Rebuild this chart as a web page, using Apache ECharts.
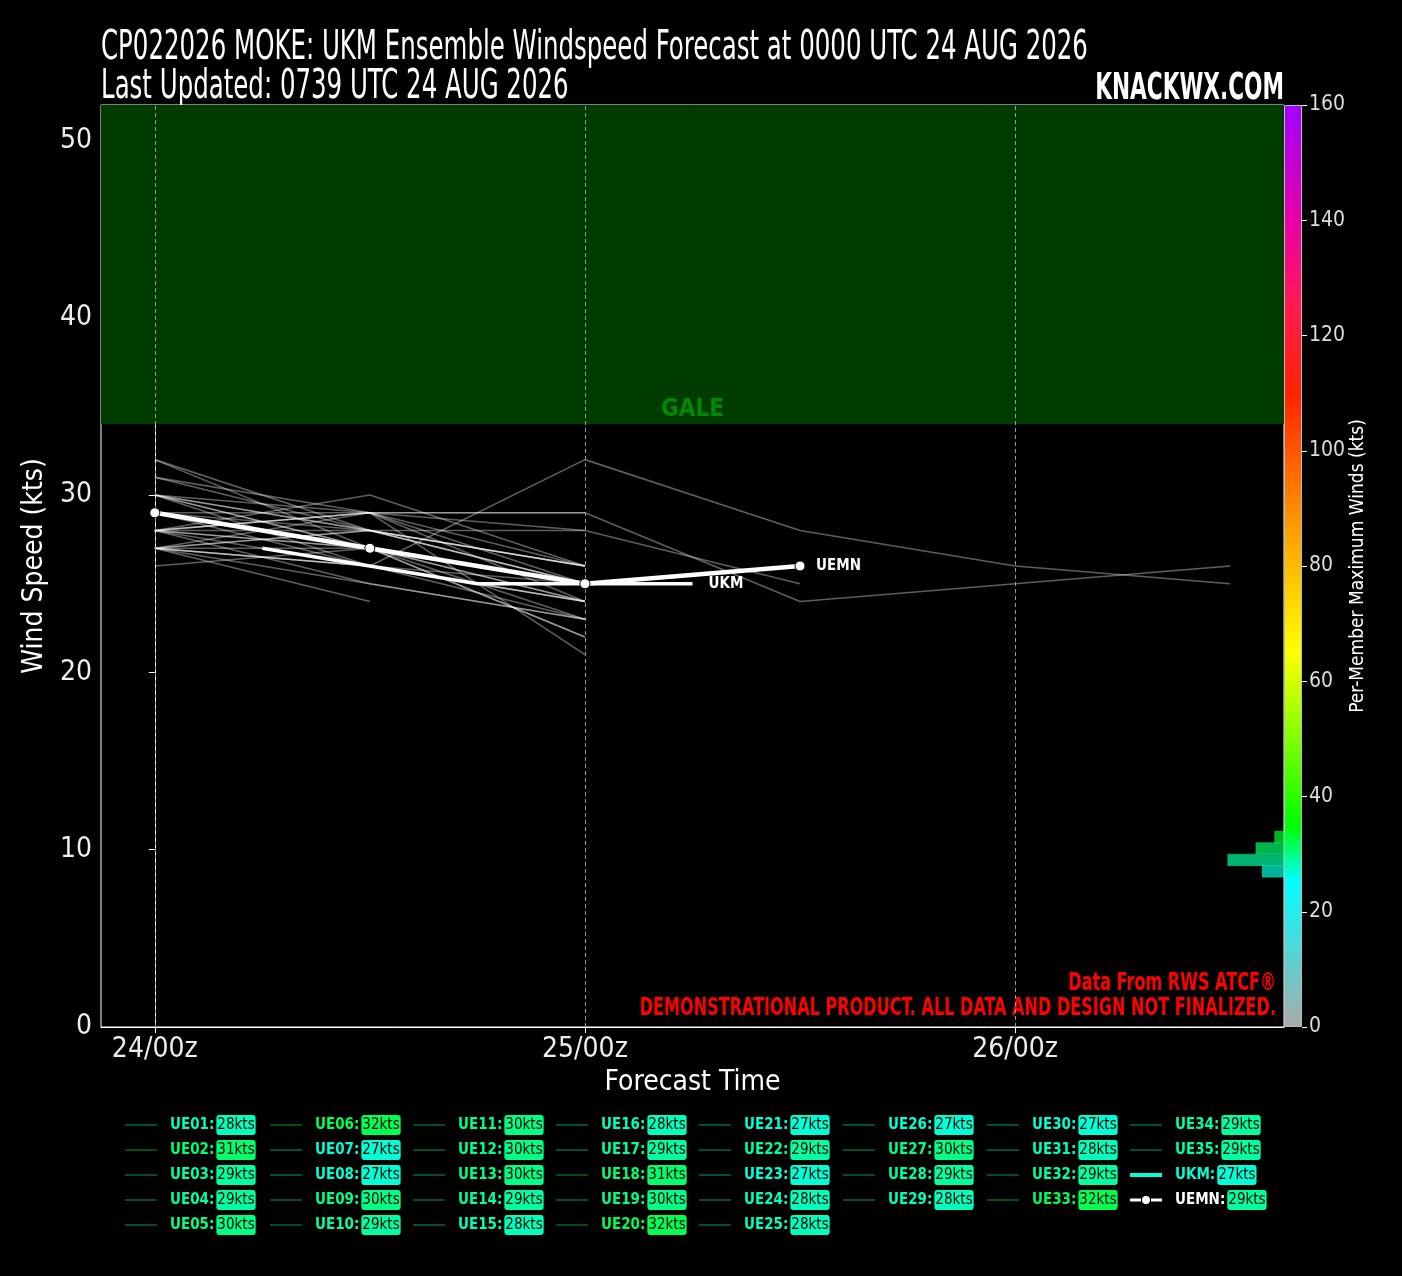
<!DOCTYPE html>
<html><head><meta charset="utf-8">
<script src="https://cdn.jsdelivr.net/npm/echarts@6/dist/echarts.min.js"></script>
<style>html,body{margin:0;padding:0;background:#000;}#c{width:1402px;height:1276px;}</style>
</head><body><div id="c"></div>
<script>
// ---------------- DATA ----------------
const memberHours = [0, 12, 24, 36, 48, 60];
const memberNames = ['UE01','UE02','UE03','UE04','UE05','UE06','UE07','UE08','UE09','UE10',
  'UE11','UE12','UE13','UE14','UE15','UE16','UE17','UE18','UE19','UE20',
  'UE21','UE22','UE23','UE24','UE25','UE26','UE27','UE28','UE29','UE30',
  'UE31','UE32','UE33','UE34','UE35'];
const memberWinds = [
  [28,27,25],[31,28,26],[29,27,25],[28,29,29,24,25,26],[30,28,26],
  [32,28,25],[27,26,24],[27,25,23],[30,27,25],[29,29,26],
  [28,30,26],[30,29,28],[30,26,24],[28,29,29],[28,26,24],
  [27,28,26],[29,28,25],[31,29,24],[30,28,25],[32,27,22],
  [27,27,25],[28,29,21],[26,27,25],[28,28,28,25],[28,25,23],
  [27,24],[30,27,23],[29,27,24],[27,28,26],[27,26,25],
  [28,27,24],[27,29,25],[27,26,32,28,26,25],[29,26,23],[29,27,22]
];
const ukmHours = [6, 12, 18, 24, 30];
const ukmWinds = [27, 26, 25, 25, 25];
const uemnHours = [0, 12, 24, 36];
const uemnWinds = [29, 27, 25, 26];
const tickHours = [0, 24, 48];
const tickLabels = ['24/00z', '25/00z', '26/00z'];
const yTicks = [0, 10, 20, 30, 40, 50];
const cbTicks = [0, 20, 40, 60, 80, 100, 120, 140, 160];
const galeThreshold = 34;
const titleLines = ['CP022026 MOKE: UKM Ensemble Windspeed Forecast at 0000 UTC 24 AUG 2026',
  'Last Updated: 0739 UTC 24 AUG 2026'];
const legendColumnSizes = [5, 5, 5, 5, 5, 4, 4, 4];

// ---------------- STYLE ----------------
const F = "'Liberation Sans Narrow','DejaVu Sans Condensed','Arial Narrow',sans-serif";
const xMin = -3, xMax = 63, yMax = 52, cbMax = 160, binW = 2;
const cmapStops = [[0,'#aaaaaa'],[25.5,'#00ffff'],[35,'#00ff00'],[65,'#ffff00'],[85,'#ffa500'],
  [110,'#ff2200'],[125,'#ff1a50'],[140,'#e800a8'],[160,'#a000ff']];
function hex2rgb(h){return [parseInt(h.substr(1,2),16),parseInt(h.substr(3,2),16),parseInt(h.substr(5,2),16)];}
function cmapRGB(v){
  if (v <= cmapStops[0][0]) return hex2rgb(cmapStops[0][1]);
  for (let i=1;i<cmapStops.length;i++){
    if (v <= cmapStops[i][0]){
      const a=cmapStops[i-1], b=cmapStops[i], t=(v-a[0])/(b[0]-a[0]);
      const ca=hex2rgb(a[1]), cb=hex2rgb(b[1]);
      return ca.map((c,k)=>Math.round(c+(cb[k]-c)*t));
    }
  }
  return hex2rgb(cmapStops[cmapStops.length-1][1]);
}
function cmap(v, a){const c=cmapRGB(v); return a==null?`rgb(${c[0]},${c[1]},${c[2]})`:`rgba(${c[0]},${c[1]},${c[2]},${a})`;}

const zip = (xs, ys) => ys.map((y,i)=>[xs[i], y]);
const memberMax = memberWinds.map(w => Math.max(...w));
const ukmMax = Math.max(...ukmWinds), uemnMax = Math.max(...uemnWinds);
const allMax = memberMax.concat([ukmMax, uemnMax]);

// histogram of per-member maxima
const binCounts = {};
allMax.forEach(v => { const b = Math.floor(v/binW)*binW; binCounts[b] = (binCounts[b]||0)+1; });
const histData = Object.keys(binCounts).map(b => [Number(b), Number(b)+binW, binCounts[b]]);

// legend items
const legendNames = memberNames.concat(['UKM','UEMN']);
const maxByName = {}; memberNames.forEach((n,i)=>maxByName[n]=memberMax[i]);
maxByName['UKM']=ukmMax; maxByName['UEMN']=uemnMax;
const rich = {};
Object.values(maxByName).forEach(k => {
  rich['n'+k] = {color: cmap(k), fontWeight:'bold', fontSize:15, fontFamily:F, padding:[0,2,0,8]};
  rich['b'+k] = {backgroundColor: cmap(k), color:'#000', fontSize:15, fontFamily:F, borderRadius:3, padding:[3,1,2,1]};
});
rich['w'] = {color:'#ffffff', fontWeight:'bold', fontSize:15, fontFamily:F, padding:[0,2,0,8]};
const colX = [125, 270, 413, 556, 699, 843, 987, 1130];
const ICON_LINE = 'path://M0,0H32V2H0Z';
const ICON_THICK = 'path://M0,0H32V4H0Z';
const ICON_MEAN = 'path://M0,3H11V6H0Z M21,3H32V6H21Z M16,0.5A4,4 0 1,1 15.99,0.5Z';
let start = 0;
const legends = colX.map((x, c) => {
  const names = legendNames.slice(start, start + legendColumnSizes[c]);
  start += legendColumnSizes[c];
  return {
    orient:'vertical', left:x, top:1115, padding:0, itemGap:5, itemWidth:32, itemHeight:14,
    selectedMode:false, symbolKeepAspect:true, textStyle:{rich:rich},
    formatter: name => {const k=maxByName[name]; const s = name==='UEMN'?'w':'n'+k; return `{${s}|${name}:}{b${k}|${k}kts}`;},
    data: names.map(n => {
      if (n==='UKM') return {name:n, icon:ICON_THICK, itemStyle:{color:cmap(ukmMax), borderWidth:0}};
      if (n==='UEMN') return {name:n, icon:ICON_MEAN, itemStyle:{color:'#fff', borderWidth:0}};
      return {name:n, icon:ICON_LINE, itemStyle:{color:cmap(maxByName[n],0.3), borderWidth:0}};
    })
  };
});

const series = [];
series.push({
  type:'line', data:[], silent:true, z:1, xAxisIndex:0, yAxisIndex:0,
  markArea:{silent:true, itemStyle:{color:'#003c00'},
    label:{show:true, position:'insideBottom', formatter:'GALE', color:'#008a00', fontSize:24, fontWeight:'bold', fontFamily:F, distance:2},
    data:[[{xAxis:xMin, yAxis:galeThreshold},{xAxis:xMax, yAxis:yMax}]]},
  markLine:{silent:true, symbol:['none','none'], label:{show:false},
    lineStyle:{type:[4,3], color:'#9a9a9a', width:1},
    data: tickHours.map(h => ({xAxis:h}))}
});
memberNames.forEach((n,i) => series.push({
  type:'line', name:n, data: zip(memberHours, memberWinds[i]), symbol:'none', silent:true, z:3,
  lineStyle:{color:'rgba(255,255,255,0.37)', width:1.6}, itemStyle:{color:'rgba(255,255,255,0.37)'},
  emphasis:{disabled:true}
}));
series.push({
  type:'line', name:'UKM', data: zip(ukmHours, ukmWinds), symbol:'none', silent:true, z:5,
  lineStyle:{color:'#fff', width:3.5}, itemStyle:{color:'#fff'},
  endLabel:{show:true, formatter:'UKM', color:'#fff', fontFamily:F, fontWeight:'bold', fontSize:15, distance:16},
  emphasis:{disabled:true}
});
series.push({
  type:'line', name:'UEMN', data: zip(uemnHours, uemnWinds), symbol:'circle', symbolSize:10, silent:true, z:6,
  lineStyle:{color:'#fff', width:4.5}, itemStyle:{color:'#fff', borderColor:'#000', borderWidth:1},
  endLabel:{show:true, formatter:'UEMN', color:'#fff', fontFamily:F, fontWeight:'bold', fontSize:15, distance:16},
  emphasis:{disabled:true}
});
// colorbar
series.push({
  type:'bar', xAxisIndex:1, yAxisIndex:1, data:[cbMax], barWidth:'100%', silent:true,
  itemStyle:{borderColor:'#bbb', borderWidth:1,
    color:new echarts.graphic.LinearGradient(0,1,0,0, cmapStops.map(s=>({offset:s[0]/cbMax, color:s[1]})))}
});
// histogram
series.push({
  type:'custom', xAxisIndex:2, yAxisIndex:2, data:histData, silent:true, z:4,
  renderItem:(params, api) => {
    const y0=api.value(0), y1=api.value(1), n=api.value(2);
    const p0=api.coord([0,y0]), p1=api.coord([n,y1]);
    const col = cmap((y0+y1)/2, 0.7);
    return {type:'rect', shape:{x:Math.min(p0[0],p1[0]), y:Math.min(p0[1],p1[1]), width:Math.abs(p1[0]-p0[0]), height:Math.abs(p1[1]-p0[1])},
      style:{fill:col, stroke:cmap((y0+y1)/2,0.35), lineWidth:1}};
  }
});

const chart = echarts.init(document.getElementById('c'), null, {renderer:'canvas'});
chart.setOption({
  backgroundColor:'#000', animation:false,
  graphic:[
    {type:'text', x:101, y:49, scaleX:0.68, style:{text:titleLines[0], fill:'#fff', font:`40px ${F}`, textVerticalAlign:'middle'}},
    {type:'text', x:101, y:88, scaleX:0.68, style:{text:titleLines[1], fill:'#fff', font:`40px ${F}`, textVerticalAlign:'middle'}},
    {type:'text', x:1284, y:89, scaleX:0.65, style:{text:'KNACKWX.COM', fill:'#fff', font:`bold 37px ${F}`, textAlign:'right', textVerticalAlign:'middle'}},
    {type:'text', x:1276, y:983, scaleX:0.715, style:{text:'Data From RWS ATCF®', fill:'#ff0000', font:`bold 25px ${F}`, textAlign:'right', textVerticalAlign:'middle'}},
    {type:'text', x:1276, y:1008, scaleX:0.715, style:{text:'DEMONSTRATIONAL PRODUCT. ALL DATA AND DESIGN NOT FINALIZED.', fill:'#ff0000', font:`bold 25px ${F}`, textAlign:'right', textVerticalAlign:'middle'}}
  ],
  legend: legends,
  grid:[
    {left:101, top:105, width:1183, height:922, show:true, borderColor:'#fff', borderWidth:1, backgroundColor:'transparent', containLabel:false},
    {left:1284, top:105, width:18, height:922, containLabel:false},
    {left:1184, top:105, width:100, height:922, containLabel:false}
  ],
  xAxis:[
    {type:'value', gridIndex:0, min:xMin, max:xMax, name:'Forecast Time', nameLocation:'middle', nameGap:42,
     nameTextStyle:{color:'#fff', fontSize:28, fontFamily:F},
     axisLine:{show:true, lineStyle:{color:'#fff', width:1}},
     axisTick:{show:true, customValues:tickHours, length:6, lineStyle:{color:'#fff'}},
     axisLabel:{customValues:tickHours, formatter:v=>tickLabels[tickHours.indexOf(v)], color:'#eee', fontSize:28, fontFamily:F, margin:9},
     splitLine:{show:false}},
    {type:'category', gridIndex:1, data:['cb'], show:false},
    {type:'value', gridIndex:2, min:0, max:32, inverse:true, show:false}
  ],
  yAxis:[
    {type:'value', gridIndex:0, min:0, max:yMax, name:'Wind Speed (kts)', nameLocation:'middle', nameGap:40,
     nameTextStyle:{color:'#fff', fontSize:28, fontFamily:F},
     axisLine:{show:true, lineStyle:{color:'#fff', width:1}},
     axisTick:{show:true, customValues:yTicks, length:6, lineStyle:{color:'#fff'}},
     axisLabel:{customValues:yTicks, color:'#eee', fontSize:28, fontFamily:F, margin:9},
     splitLine:{show:false}},
    {type:'value', gridIndex:1, min:0, max:cbMax, position:'right', name:'Per-Member Maximum Winds (kts)',
     nameLocation:'middle', nameGap:40, nameRotate:90, nameTextStyle:{color:'#fff', fontSize:19, fontFamily:F},
     axisLine:{show:false},
     axisTick:{show:true, customValues:cbTicks, length:5, lineStyle:{color:'#fff'}},
     axisLabel:{customValues:cbTicks, color:'#ddd', fontSize:21, fontFamily:F, margin:7},
     splitLine:{show:false}},
    {type:'value', gridIndex:2, min:0, max:cbMax, show:false}
  ],
  series: series
});
</script></body></html>
